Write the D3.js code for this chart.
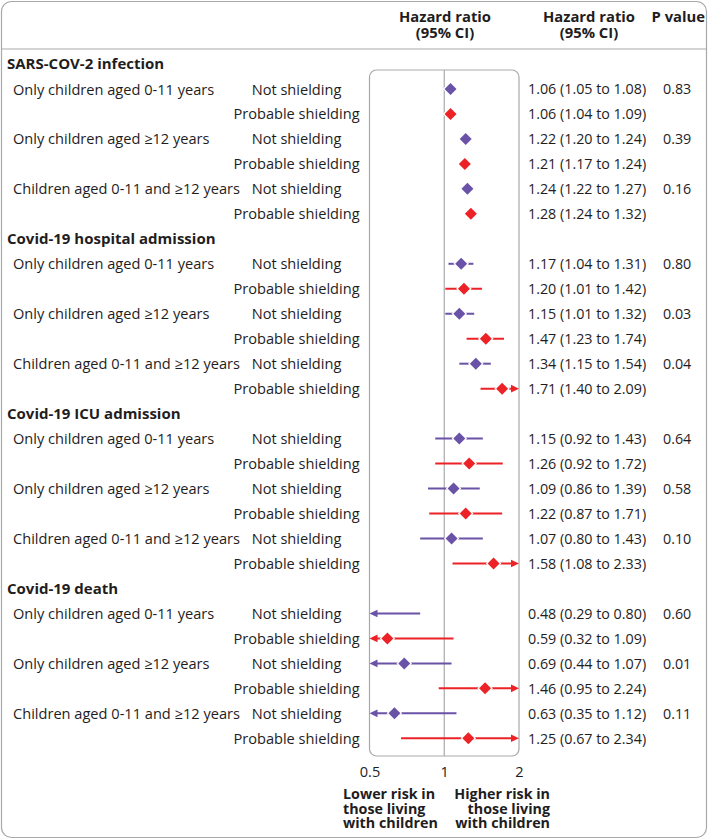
<!DOCTYPE html>
<html><head><meta charset="utf-8">
<script src="https://cdn.jsdelivr.net/npm/d3@7"></script>
<style>
html,body{margin:0;padding:0;background:#fff;}
svg{display:block;font-family:"Open Sans",sans-serif;}
</style></head>
<body><svg id="c" width="709" height="840"></svg>
<script>
const outcomes = ["SARS-COV-2 infection","Covid-19 hospital admission","Covid-19 ICU admission","Covid-19 death"];
const groups = ["Only children aged 0-11 years","Only children aged \u226512 years","Children aged 0-11 and \u226512 years"];
const shielding = ["Not shielding","Probable shielding"];
// per outcome: 6 rows in order group1 NS, group1 PS, group2 NS, ...
const hr = [1.06,1.06,1.22,1.21,1.24,1.28, 1.17,1.20,1.15,1.47,1.34,1.71, 1.15,1.26,1.09,1.22,1.07,1.58, 0.48,0.59,0.69,1.46,0.63,1.25];
const lo = [1.05,1.04,1.20,1.17,1.22,1.24, 1.04,1.01,1.01,1.23,1.15,1.40, 0.92,0.92,0.86,0.87,0.80,1.08, 0.29,0.32,0.44,0.95,0.35,0.67];
const hi = [1.08,1.09,1.24,1.24,1.27,1.32, 1.31,1.42,1.32,1.74,1.54,2.09, 1.43,1.72,1.39,1.71,1.43,2.33, 0.80,1.09,1.07,2.24,1.12,2.34];
const pvals = ["0.83","0.39","0.16","0.80","0.03","0.04","0.64","0.58","0.10","0.60","0.01","0.11"];
const tickVals = [0.5,1,2];
const colors = {"Not shielding":"#6a52a6","Probable shielding":"#ec2227"};

const svg = d3.select("#c");
const x = d3.scaleLog().domain([0.5,2]).range([369.5,519]);
const y = d3.scaleLinear().domain([0,27]).range([64,738.3]);
const f2 = d3.format(".2f");
const ink = "#1f1d1e";

// frame
svg.append("rect").attr("x",1.5).attr("y",1.5).attr("width",705).attr("height",836).attr("rx",10)
  .attr("fill","none").attr("stroke","#a7a9ac").attr("stroke-width",1.2);
svg.append("line").attr("x1",1.5).attr("x2",706.5).attr("y1",49).attr("y2",49).attr("stroke","#a7a9ac").attr("stroke-width",1.2);

// headers
const hdr = svg.append("g").attr("font-weight","bold").attr("font-size",14.8).attr("fill",ink);
hdr.append("text").attr("x",445).attr("y",22).attr("text-anchor","middle").text("Hazard ratio");
hdr.append("text").attr("x",445).attr("y",38).attr("text-anchor","middle").text("(95% CI)");
hdr.append("text").attr("x",589).attr("y",22).attr("text-anchor","middle").text("Hazard ratio");
hdr.append("text").attr("x",589).attr("y",38).attr("text-anchor","middle").text("(95% CI)");
hdr.append("text").attr("x",705).attr("y",22).attr("text-anchor","end").text("P value");

// plot box
svg.append("rect").attr("x",x(0.5)).attr("y",70).attr("width",x(2)-x(0.5)).attr("height",686).attr("rx",7)
  .attr("fill","none").attr("stroke","#a7a9ac").attr("stroke-width",1.2);
svg.append("line").attr("x1",x(1)).attr("x2",x(1)).attr("y1",70).attr("y2",756).attr("stroke","#a7a9ac").attr("stroke-width",1.2);

// build rows
const rows = [];
let line = 0;
outcomes.forEach((o,oi)=>{
  rows.push({type:"head",label:o,line:line++});
  groups.forEach((g,gi)=>{
    shielding.forEach((s,si)=>{
      const k = oi*6+gi*2+si;
      rows.push({type:"row",group:si===0?g:null,shield:s,hr:hr[k],lo:lo[k],hi:hi[k],
        p:si===0?pvals[oi*3+gi]:null,line:line++});
    });
  });
});

const txt = svg.append("g").attr("font-size",14.6).attr("fill",ink);
rows.forEach(r=>{
  const yy = y(r.line);
  if(r.type==="head"){
    txt.append("text").attr("x",7).attr("y",yy).attr("dy","0.36em").attr("font-weight","bold").attr("font-size",15).text(r.label);
    return;
  }
  if(r.group) txt.append("text").attr("x",13).attr("y",yy).attr("dy","0.38em").text(r.group);
  txt.append("text").attr("x",296.5).attr("y",yy).attr("dy","0.38em").attr("text-anchor","middle").text(r.shield);
  txt.append("text").attr("x",528).attr("y",yy).attr("dy","0.38em").attr("font-size",14.3).text(`${f2(r.hr)} (${f2(r.lo)} to ${f2(r.hi)})`);
  if(r.p) txt.append("text").attr("x",663).attr("y",yy).attr("dy","0.38em").attr("font-size",14.3).text(r.p);
});

// marks
const marks = svg.append("g");
const clamp = v=>Math.max(0.5,Math.min(2,v));
rows.filter(r=>r.type==="row").forEach(r=>{
  const yy = y(r.line), c = colors[r.shield];
  const x1 = x(clamp(r.lo)), x2 = x(clamp(r.hi));
  const aL = r.lo<0.5, aR = r.hi>2;
  marks.append("line").attr("x1",aL?x1+6:x1).attr("x2",aR?x2-6:x2).attr("y1",yy).attr("y2",yy)
    .attr("stroke",c).attr("stroke-width",2);
  if(aL) marks.append("path").attr("d",`M${x1},${yy}L${x1+8},${yy-3.8}L${x1+8},${yy+3.8}Z`).attr("fill",c);
  if(aR) marks.append("path").attr("d",`M${x2},${yy}L${x2-8},${yy-3.8}L${x2-8},${yy+3.8}Z`).attr("fill",c);
  if(r.hr>=0.5 && r.hr<=2){
    const cx = x(r.hr), h = 6;
    marks.append("path").attr("d",`M${cx},${yy-h}L${cx+h},${yy}L${cx},${yy+h}L${cx-h},${yy}Z`)
      .attr("fill",c).attr("stroke","#fff").attr("stroke-width",2.5).attr("paint-order","stroke");
  }
});

// axis
const ax = svg.append("g").attr("transform","translate(0,764)")
  .call(d3.axisBottom(x).tickValues(tickVals).tickSize(0).tickFormat(d=>String(d)));
ax.select(".domain").remove();
ax.selectAll("text").attr("font-size",14.6).attr("font-family","Open Sans, sans-serif").attr("fill",ink);

const lab = svg.append("g").attr("font-size",14.3).attr("font-weight","bold").attr("fill",ink);
const l1 = lab.append("text").attr("x",343).attr("y",799);
["Lower risk in","those living","with children"].forEach((t,i)=>
  l1.append("tspan").attr("x",343).attr("dy",i===0?0:14.5).text(t));
const l2 = lab.append("text").attr("x",550).attr("y",799).attr("text-anchor","end");
["Higher risk in","those living","with children"].forEach((t,i)=>
  l2.append("tspan").attr("x",550).attr("dy",i===0?0:14.5).text(t));
</script></body></html>
